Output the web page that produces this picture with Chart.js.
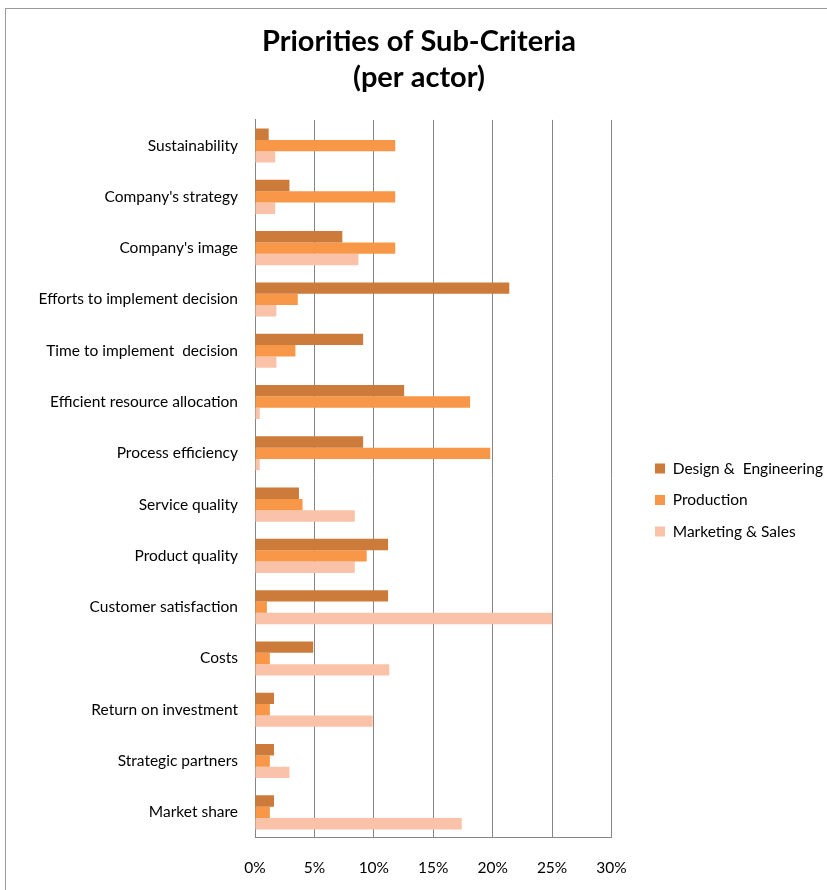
<!DOCTYPE html>
<html>
<head>
<meta charset="utf-8">
<script src="https://cdn.jsdelivr.net/npm/chart.js@4.4.1/dist/chart.umd.min.js"></script>
<style>
  html, body { margin: 0; padding: 0; background: #fff; }
  #wrap { width: 827px; height: 890px; }
</style>
</head>
<body>
<div id="wrap"><canvas id="subCriteriaChart" width="827" height="890"></canvas></div>
<script>
const criteria = [
  'Sustainability',
  "Company's strategy",
  "Company's image",
  'Efforts to implement decision',
  'Time to implement  decision',
  'Efficient resource allocation',
  'Process efficiency',
  'Service quality',
  'Product quality',
  'Customer satisfaction',
  'Costs',
  'Return on investment',
  'Strategic partners',
  'Market share'
];

// priorities in percent, one entry per criterion
const designEngineering = [1.15, 2.9, 7.35, 21.4, 9.1, 12.55, 9.1, 3.7, 11.2, 11.2, 4.9, 1.6, 1.6, 1.6];
const production        = [11.8, 11.8, 11.8, 3.6, 3.4, 18.1, 19.8, 4.0, 9.4, 1.0, 1.25, 1.25, 1.25, 1.25];
const marketingSales    = [1.7, 1.7, 8.7, 1.8, 1.8, 0.4, 0.4, 8.4, 8.4, 25.0, 11.3, 9.9, 2.9, 17.4];

const seriesNames = ['Design &  Engineering', 'Production', 'Marketing & Sales'];
const seriesColors = ['#cc7b3b', '#f79747', '#fac3a9'];
const xTicks = [0, 5, 10, 15, 20, 25, 30];

Chart.defaults.font.family = 'Lato, "Open Sans", sans-serif';
Chart.defaults.color = '#000';

// outer frame around the whole chart
const frame = {
  id: 'frame',
  beforeDraw(chart) {
    const ctx = chart.ctx;
    ctx.save();
    ctx.fillStyle = '#fff';
    ctx.fillRect(0, 0, chart.width, chart.height);
    ctx.strokeStyle = '#9a9a9a';
    ctx.lineWidth = 1;
    ctx.strokeRect(5.5, 8.5, chart.width + 20, chart.height + 20);
    ctx.restore();
  }
};

// nudge the legend block away from the plot
const legendOffset = {
  id: 'legendOffset',
  afterLayout(chart) {
    const lg = chart.legend;
    const dx = 655 - (lg.left + lg.options.labels.padding);
    const dy = 45;
    lg.left += dx; lg.right += dx;
    lg.top += dy; lg.bottom += dy;
  }
};

const datasets = [designEngineering, production, marketingSales].map((values, i) => ({
  label: seriesNames[i],
  data: values,
  backgroundColor: seriesColors[i],
  borderWidth: 0
}));

new Chart(document.getElementById('subCriteriaChart'), {
  type: 'bar',
  data: { labels: criteria, datasets: datasets },
  options: {
    responsive: false,
    animation: false,
    indexAxis: 'y',
    layout: { padding: { left: 34, right: 23, top: 20, bottom: 0 } },
    datasets: {
      bar: { categoryPercentage: 0.665, barPercentage: 1.0 }
    },
    plugins: {
      title: {
        display: true,
        text: ['Priorities of Sub-Criteria', '(per actor)'],
        font: { size: 29, weight: 'bold', lineHeight: 1.24 },
        color: '#000',
        padding: { top: 4, bottom: 24 }
      },
      legend: {
        position: 'right',
        labels: {
          boxWidth: 10,
          boxHeight: 10,
          padding: 16,
          font: { size: 15.5 },
          color: '#000'
        }
      },
      tooltip: { enabled: false }
    },
    scales: {
      x: {
        min: 0,
        max: 30,
        afterBuildTicks(scale) {
          scale.ticks = xTicks.map((v) => ({ value: v }));
        },
        afterFit(scale) { scale.height = 52; },
        grid: { color: '#858585', lineWidth: 1, drawTicks: false },
        border: { color: '#858585', width: 1 },
        ticks: {
          padding: 21,
          font: { size: 15.5 },
          color: '#000',
          callback: (v) => v + '%'
        }
      },
      y: {
        afterFit(scale) { scale.width = 221; },
        grid: { display: false, drawTicks: false },
        border: { color: '#858585', width: 1 },
        ticks: {
          padding: 17,
          font: { size: 15.5 },
          color: '#000'
        }
      }
    }
  },
  plugins: [frame, legendOffset]
});
</script>
</body>
</html>
